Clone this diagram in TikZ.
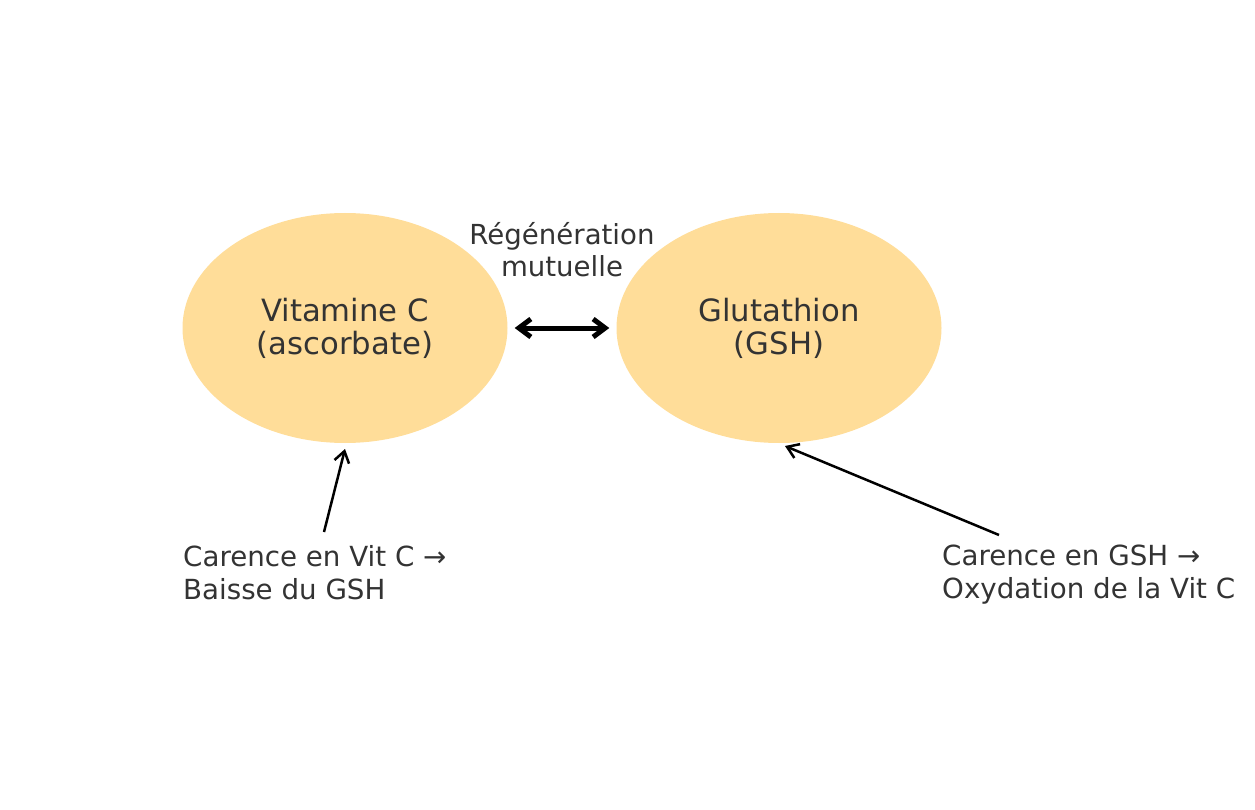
\documentclass[tikz,border=0pt]{standalone}
\usepackage{fontspec}
\setmainfont{DejaVu Sans}
\usetikzlibrary{shapes.geometric,arrows.meta}
\definecolor{ellfill}{HTML}{FFDD99}
\definecolor{txt}{HTML}{333333}
\tikzset{
  bubble/.style={ellipse, fill=ellfill, draw=none, minimum width=325pt, minimum height=230pt, inner sep=0pt,
    text=txt, align=center, font=\fontsize{30.7}{33}\selectfont},
  lbl/.style={text=txt, align=left, inner sep=0pt, font=\fontsize{27.7}{33}\selectfont},
  midlbl/.style={text=txt, align=center, inner sep=0pt, font=\fontsize{27.6}{32}\selectfont},
  thinarrow/.style={-{Straight Barb[length=11pt,width=15pt]}, line width=2.5pt, black},
  thickarrow/.style={{Straight Barb[length=12pt,width=18pt]}-{Straight Barb[length=12pt,width=18pt]}, line width=5pt, black}
}
\begin{document}
\begin{tikzpicture}[x=1pt,y=-1pt]
\useasboundingbox (0,0) rectangle (1255,810);
\node[bubble] (vc) at (345,328) {Vitamine C\\(ascorbate)};
\node[bubble] (gsh) at (779,328) {Glutathion\\(GSH)};
\node[midlbl] (reg) at (562,250) {Régénération\\mutuelle};
\node[lbl, anchor=west] (lv) at (183,573) {Carence en Vit C →\\Baisse du GSH};
\node[lbl, anchor=west] (lg) at (942,575) {Carence en GSH →\\Oxydation de la Vit C};
\draw[thickarrow, shorten <=7pt, shorten >=7pt] (vc) -- (gsh);
\coordinate (lvs) at (324,532);
\coordinate (vce) at (345,449);
\coordinate (lgs) at (999,535);
\coordinate (gshe) at (785,446);
\draw[thinarrow] (lvs) -- (vce);
\draw[thinarrow] (lgs) -- (gshe);
\end{tikzpicture}
\end{document}
